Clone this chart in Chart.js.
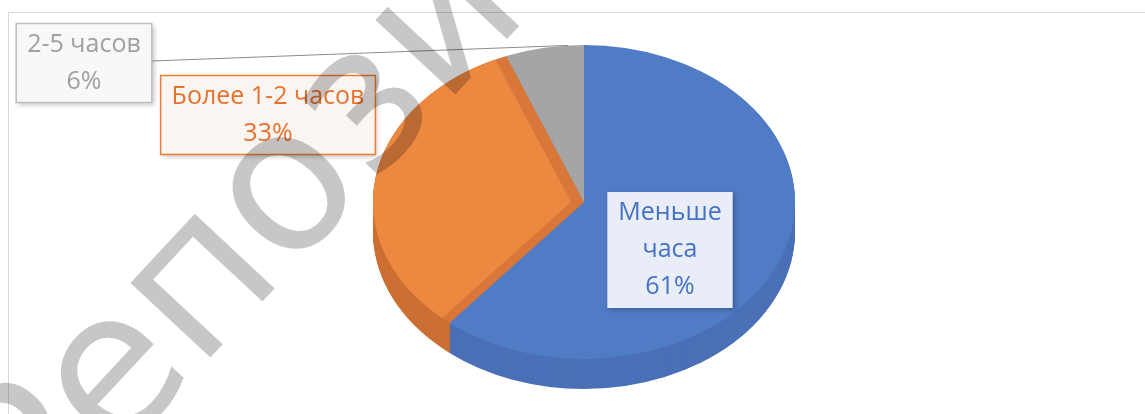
<!DOCTYPE html>
<html>
<head>
<meta charset="utf-8">
<script src="https://cdn.jsdelivr.net/npm/chart.js@4.4.0/dist/chart.umd.min.js"></script>
<style>
  html, body { margin: 0; padding: 0; background: #fff; }
  #wrap { width: 1145px; height: 414px; position: relative; }
</style>
</head>
<body>
<div id="wrap"><canvas id="time_Chart" width="1145" height="414"></canvas></div>
<script>
// ---------------------------------------------------------------
// данные
const categories = ['Меньше часа', 'Более 1-2 часов', '2-5 часов'];
const shares = [61, 33, 6];
const labelLines = [['Меньше', 'часа'], ['Более 1-2 часов'], ['2-5 часов']];

// цвета: верх сектора, боковая стенка
const topColors = ['#507CC6', '#D9763A', '#A5A5A5'];
const sideColors = ['#4A70B6', '#CC6F33', '#8F8F8F'];
const orangeFace = '#EC8840';

// подписи (смещение центра рамки от центра круга)
const labelOffsets = [[86, 48], [-316, -87], [-500, -139]];
const labelFill = ['#E9EDF7', '#FBF5F2', '#F8F8F8'];
const labelStroke = [null, '#ED7D31', '#BFBFBF'];
const labelText = ['#4472C4', '#E5732F', '#A0A0A0'];

const RX = 211;        // горизонтальный радиус эллипса
const DEPTH = 30;      // толщина "3D" диска
const FACE_SHIFT = 13; // сдвиг верхней грани оранжевого сектора
const FONT = '"Open Sans", "Noto Sans", sans-serif';
const LINE_H = 37;
const PAD = 11;

function slicePath(ctx, arc, dy) {
	ctx.beginPath();
	ctx.moveTo(arc.x, arc.y + dy);
	ctx.arc(arc.x, arc.y + dy, arc.outerRadius, arc.startAngle, arc.endAngle);
	ctx.closePath();
}

function squash(ctx, arc) {
	const sx = RX / arc.outerRadius;
	ctx.translate(arc.x, arc.y);
	ctx.scale(sx, 1);
	ctx.translate(-arc.x, -arc.y);
	return sx;
}

const pie3d = {
	id: 'pie3d',
	beforeDraw(chart) {
		// рамка области диаграммы
		const ctx = chart.ctx;
		ctx.save();
		ctx.strokeStyle = '#D9D9D9';
		ctx.lineWidth = 1;
		ctx.beginPath();
		ctx.moveTo(8.5, 414);
		ctx.lineTo(8.5, 12.5);
		ctx.lineTo(1145, 12.5);
		ctx.stroke();
		ctx.restore();
	},
	beforeDatasetsDraw(chart) {
		const ctx = chart.ctx;
		const arcs = chart.getDatasetMeta(0).data;
		ctx.save();
		squash(ctx, arcs[0]);
		// боковые стенки: слои сверху вниз
		for (let d = DEPTH; d >= 1; d--) {
			arcs.forEach((arc, i) => {
				ctx.fillStyle = sideColors[i];
				slicePath(ctx, arc, d);
				ctx.fill();
			});
		}
	},
	afterDatasetsDraw(chart) {
		const ctx = chart.ctx;
		const arc = chart.getDatasetMeta(0).data[1];
		const sx = RX / arc.outerRadius;
		// верхняя грань оранжевого сектора чуть сдвинута -> видна внутренняя стенка
		ctx.save();
		slicePath(ctx, arc, 0);
		ctx.clip();
		ctx.translate(-FACE_SHIFT / sx, 0);
		ctx.fillStyle = orangeFace;
		slicePath(ctx, arc, 0);
		ctx.fill();
		ctx.restore();
		ctx.restore(); // squash
	},
	afterDraw(chart) {
		const ctx = chart.ctx;
		const arcs = chart.getDatasetMeta(0).data;
		const cx = arcs[0].x, cy = arcs[0].y, ry = arcs[0].outerRadius;

		const boxes = [];
		ctx.save();
		ctx.font = '25px ' + FONT;
		arcs.forEach((arc, i) => {
			const lines = labelLines[i].concat(shares[i] + '%');
			const w = Math.max(...lines.map(t => ctx.measureText(t).width)) + 2 * PAD;
			const h = lines.length * LINE_H + 5;
			const bx = cx + labelOffsets[i][0] - w / 2;
			const by = cy + labelOffsets[i][1] - h / 2;
			boxes.push({ bx, by, w, h, lines });
		});

		// выноска от "2-5 часов" к сектору
		const g = arcs[2];
		const ang = g.startAngle + 0.8 * (g.endAngle - g.startAngle);
		const b2 = boxes[2];
		ctx.strokeStyle = '#8C8C8C';
		ctx.lineWidth = 1;
		ctx.beginPath();
		ctx.moveTo(b2.bx + b2.w, b2.by + b2.h / 2 - 2);
		ctx.lineTo(cx + RX * Math.cos(ang), cy + ry * Math.sin(ang));
		ctx.stroke();

		boxes.forEach((b, i) => {
			ctx.save();
			ctx.shadowColor = 'rgba(0,0,0,0.25)';
			ctx.shadowBlur = 5;
			ctx.shadowOffsetX = 2;
			ctx.shadowOffsetY = 2;
			ctx.fillStyle = labelFill[i];
			ctx.fillRect(b.bx, b.by, b.w, b.h);
			ctx.restore();
			if (labelStroke[i]) {
				ctx.strokeStyle = labelStroke[i];
				ctx.lineWidth = 1.5;
				ctx.strokeRect(b.bx, b.by, b.w, b.h);
			}
			ctx.fillStyle = labelText[i];
			ctx.textAlign = 'center';
			ctx.textBaseline = 'middle';
			b.lines.forEach((t, k) => {
				ctx.fillText(t, b.bx + b.w / 2, b.by + 2.5 + LINE_H * (k + 0.5));
			});
		});
		ctx.restore();

		// водяной знак
		ctx.save();
		ctx.font = '200px "DejaVu Sans"';
		ctx.fillStyle = 'rgba(0,0,0,0.22)';
		ctx.translate(203, 286);
		ctx.rotate(-47 * Math.PI / 180);
		const pre = ctx.measureText('Ре').width + ctx.measureText('п').width / 2;
		ctx.textAlign = 'left';
		ctx.textBaseline = 'alphabetic';
		ctx.fillText('Репозиторий', -pre, 0.27 * 200);
		ctx.restore();
	}
};

var context = document.getElementById('time_Chart').getContext('2d');
var time_Chart = new Chart(context, {
	type: 'pie',
	data: {
		labels: categories,
		datasets: [{
			data: shares,
			backgroundColor: topColors,
			borderWidth: 0,
			hoverOffset: 0,
			offset: 0,
			clip: false
		}]
	},
	options: {
		responsive: false,
		animation: false,
		layout: { padding: { top: 45, bottom: 55, left: 427, right: 404 } },
		plugins: {
			legend: { display: false },
			tooltip: { enabled: false }
		}
	},
	plugins: [pie3d]
});
</script>
</body>
</html>
